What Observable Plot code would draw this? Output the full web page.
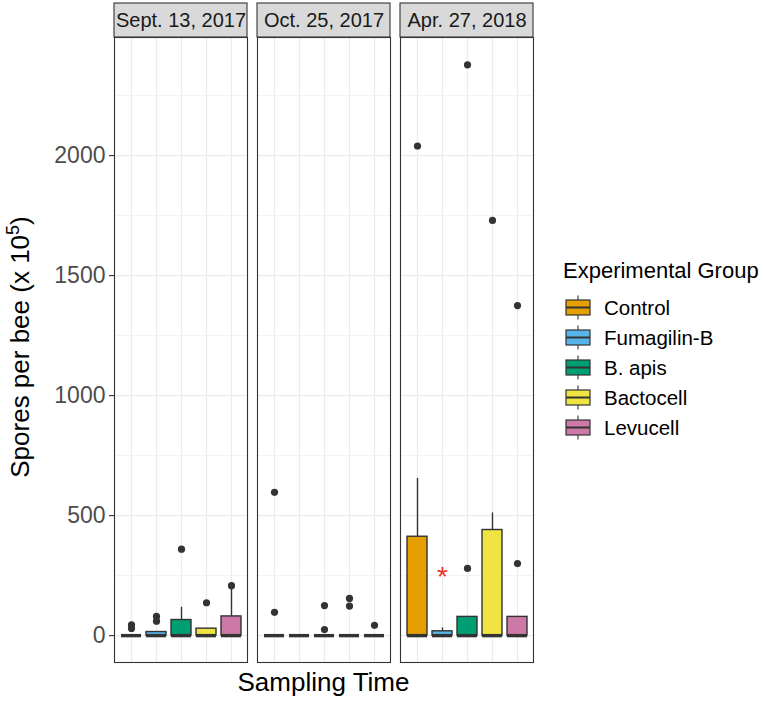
<!DOCTYPE html>
<html><head><meta charset="utf-8">
<script src="https://cdn.jsdelivr.net/npm/d3@7"></script>
<script src="https://cdn.jsdelivr.net/npm/@observablehq/plot@0.6"></script>
<style>body{margin:0;background:#fff;} #chart{position:relative;width:764px;height:701px;}</style>
</head><body><div id="chart"></div>
<script>
// ---- data ----
const dates = ["Sept. 13, 2017", "Oct. 25, 2017", "Apr. 27, 2018"];
const groups = ["Control", "Fumagilin-B", "B. apis", "Bactocell", "Levucell"];
const colors = ["#E69F00", "#56B4E9", "#009E73", "#F0E442", "#CC79A7"];
// rows = dates, columns = groups (units of 10^5 spores)
const whiskerLow = [[0,0,0,0,0],[0,0,0,0,0],[0,0,0,0,0]];
const q1Vals     = [[0,0,0,0,0],[0,0,0,0,0],[0,0,0,0,0]];
const medianVals = [[0,0,0,0,0],[0,0,0,0,0],[0,0,0,0,0]];
const q3Vals     = [[0,15,65,29,80],[0,0,0,0,0],[412,18,78,440,78]];
const whiskerHigh= [[0,15,118,29,205],[0,0,0,0,0],[655,32,78,511,78]];
const outliers = [
  [[30,45],[60,80],[360],[137],[208]],
  [[97,597],[],[25,125],[123,155],[43]],
  [[2040],[],[280,2378],[1730],[300,1375]]
];
const annotation = [{date: "Apr. 27, 2018", group: "Fumagilin-B", value: 275, label: "*"}];
const yTicks = [0, 500, 1000, 1500, 2000];
const yMinor = [250, 750, 1250, 1750, 2250];
const yDomain = [-112, 2492];
const yTitle = ["Spores per bee (x 10", "5", ")"];
const xTitle = "Sampling Time";
const legendTitle = "Experimental Group";

// ---- tables ----
const boxes = dates.flatMap((d, i) => groups.map((g, j) => ({
  date: d, group: g, lo: whiskerLow[i][j], q1: q1Vals[i][j], median: medianVals[i][j],
  q3: q3Vals[i][j], hi: whiskerHigh[i][j]
})));
const points = dates.flatMap((d, i) => groups.flatMap((g, j) =>
  outliers[i][j].map(v => ({date: d, group: g, value: v}))));

const font = "'Liberation Sans', Arial, Helvetica, sans-serif";
const W = 764, H = 701, mL = 113, mR = 230, mT = 37, mB = 39;
const innerH = H - mT - mB;

const plot = Plot.plot({
  width: W, height: H,
  marginLeft: mL, marginRight: mR, marginTop: mT, marginBottom: mB,
  style: {fontFamily: font, background: "white", overflow: "visible"},
  fx: {domain: dates, axis: null, paddingInner: 0.07, paddingOuter: 0},
  x: {domain: groups, axis: null, paddingInner: 0.22, paddingOuter: 0.21},
  y: {domain: yDomain, axis: null},
  color: {domain: groups, range: colors},
  marks: [
    Plot.ruleY(yMinor, {y: d => d, stroke: "#EBEBEB", strokeWidth: 0.6}),
    Plot.ruleY(yTicks, {y: d => d, stroke: "#EBEBEB", strokeWidth: 1.2}),
    Plot.ruleX(groups, {x: d => d, stroke: "#EBEBEB", strokeWidth: 1.2}),
    Plot.ruleX(boxes, {fx: "date", x: "group", y1: "q3", y2: "hi", stroke: "#333", strokeWidth: 1.4}),
    Plot.ruleX(boxes, {fx: "date", x: "group", y1: "lo", y2: "q1", stroke: "#333", strokeWidth: 1.4}),
    Plot.barY(boxes, {fx: "date", x: "group", y1: "q1", y2: "q3", fill: "group", stroke: "#333", strokeWidth: 1.4}),
    Plot.tickY(boxes, {fx: "date", x: "group", y: "median", stroke: "#333", strokeWidth: 3.4}),
    Plot.dot(points, {fx: "date", x: "group", y: "value", r: 3.6, fill: "#333", stroke: "none"}),
    Plot.text(annotation, {fx: "date", x: "group", y: "value", text: "label", fill: "#E8352B",
      fontSize: 28, lineAnchor: "middle", dy: 7}),
    Plot.frame({stroke: "#333", strokeWidth: 1.1}),
    Plot.rect(dates, {fx: d => d, fill: "#D9D9D9", stroke: "#333", strokeWidth: 1.1,
      insetTop: -34, insetBottom: innerH}),
    Plot.text(dates, {fx: d => d, text: d => d, frameAnchor: "top", dy: -17, lineAnchor: "middle",
      fontSize: 20, fill: "#1A1A1A"}),
    Plot.axisY(yTicks, {fontSize: 23, fill: "#4D4D4D", stroke: "#333", tickSize: 5, tickPadding: 4,
      tickFormat: d => String(d), label: null, strokeWidth: 1.1})
  ]
});

const svg = d3.select(plot);
// y title
const yt = svg.append("text")
  .attr("transform", "translate(29,347) rotate(-90)")
  .attr("text-anchor", "middle")
  .attr("font-family", font).attr("font-size", 26).attr("fill", "#000");
yt.append("tspan").text(yTitle[0]);
yt.append("tspan").attr("dy", -10).attr("font-size", 18).text(yTitle[1]);
yt.append("tspan").attr("dy", 10).text(yTitle[2]);
// x title
svg.append("text").attr("x", (mL + (W - mR)) / 2).attr("y", 691)
  .attr("text-anchor", "middle").attr("font-family", font).attr("font-size", 26)
  .attr("fill", "#000").text(xTitle);
// legend
const lg = svg.append("g").attr("font-family", font).attr("text-anchor", "start");
lg.append("text").attr("x", 563).attr("y", 278).attr("font-size", 22).attr("fill", "#000").text(legendTitle);
groups.forEach((g, i) => {
  const cy = 307.5 + 30 * i;
  const row = lg.append("g");
  row.append("line").attr("x1", 578).attr("x2", 578).attr("y1", cy - 12).attr("y2", cy + 12)
    .attr("stroke", "#333").attr("stroke-width", 1.1);
  row.append("rect").attr("x", 566).attr("y", cy - 7.5).attr("width", 24).attr("height", 15)
    .attr("fill", colors[i]).attr("stroke", "#333").attr("stroke-width", 1.2);
  row.append("line").attr("x1", 566).attr("x2", 590).attr("y1", cy).attr("y2", cy)
    .attr("stroke", "#333").attr("stroke-width", 2);
  row.append("text").attr("x", 604).attr("y", cy + 7.5).attr("font-size", 20.5).attr("fill", "#000").text(g);
});

document.getElementById("chart").appendChild(plot);
</script>
</body></html>
